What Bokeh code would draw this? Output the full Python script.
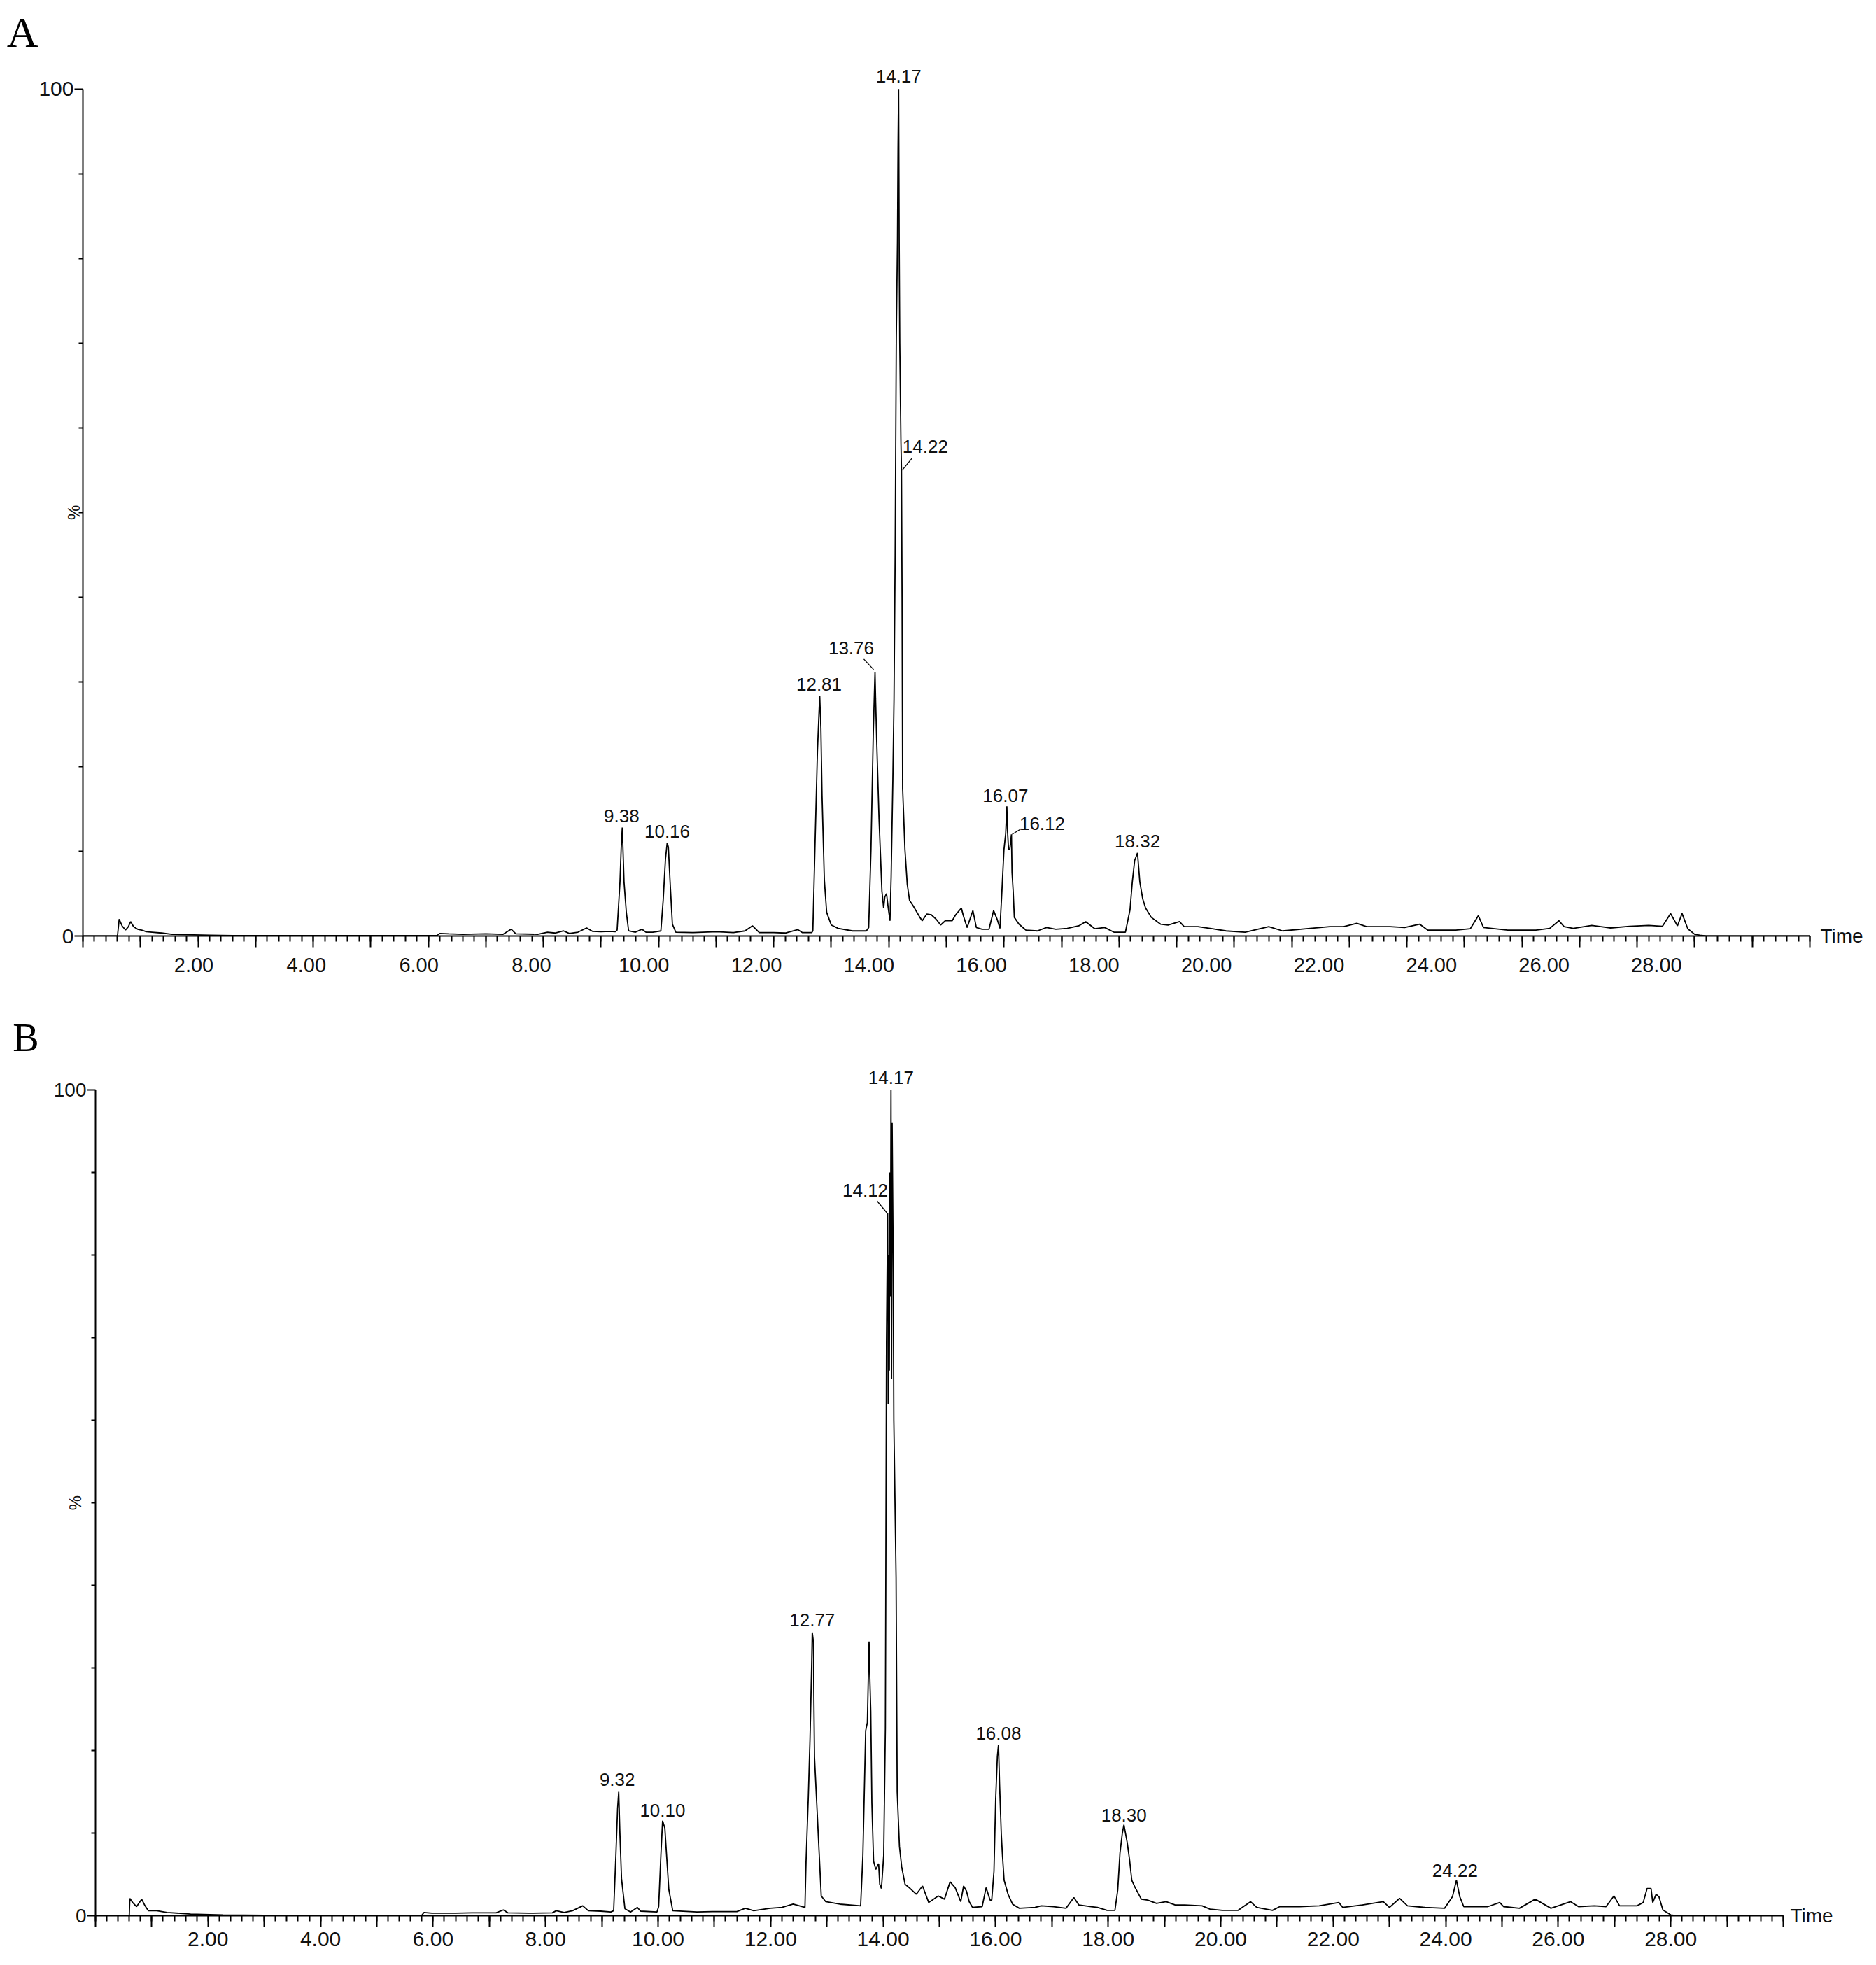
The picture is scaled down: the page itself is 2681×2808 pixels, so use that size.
from bokeh.plotting import figure
from bokeh.models import (FixedTicker, LinearAxis, Range1d, NumeralTickFormatter,
                          LabelSet, ColumnDataSource, CustomJSTickFormatter)
from bokeh.layouts import column, row
from bokeh.embed import file_html
from bokeh.resources import INLINE
from bokeh.core.properties import value

# ---------------- data ----------------
# Panel A chromatogram: retention time (min) and relative intensity (%)
A_TIME = [0.00, 0.60, 0.63, 0.68, 0.74, 0.79, 0.83, 0.88, 0.95, 1.02, 1.10, 1.20, 1.37, 1.55, 1.79,
          2.20, 2.60, 3.50, 4.50, 5.50, 6.15, 6.20, 6.35, 6.60, 7.00, 7.30, 7.44, 7.52, 7.90, 8.07,
          8.20, 8.35, 8.45, 8.60, 8.75, 8.85, 9.00, 9.15, 9.25, 9.28, 9.33, 9.35, 9.37, 9.40, 9.44,
          9.48, 9.60, 9.71, 9.78, 9.90, 10.04, 10.08, 10.12, 10.15, 10.17, 10.20, 10.24, 10.30, 10.60,
          11.00, 11.30, 11.50, 11.63, 11.75, 12.00, 12.20, 12.42, 12.50, 12.66, 12.68, 12.72, 12.76,
          12.79, 12.80, 12.82, 12.84, 12.88, 12.92, 13.00, 13.12, 13.37, 13.61, 13.65, 13.69, 13.73,
          13.76, 13.77, 13.79, 13.83, 13.88, 13.91, 13.93, 13.96, 13.99, 14.02, 14.04, 14.07, 14.09,
          14.11, 14.13, 14.15, 14.16, 14.17, 14.18, 14.19, 14.21, 14.22, 14.23, 14.24, 14.28, 14.32,
          14.36, 14.42, 14.54, 14.58, 14.66, 14.74, 14.82, 14.90, 14.98, 15.10, 15.16, 15.26, 15.29,
          15.36, 15.46, 15.52, 15.62, 15.74, 15.82, 15.88, 15.93, 15.96, 16.00, 16.03, 16.05, 16.06,
          16.08, 16.10, 16.13, 16.14, 16.16, 16.18, 16.26, 16.38, 16.58, 16.74, 16.90, 17.10, 17.30,
          17.42, 17.58, 17.75, 17.91, 18.11, 18.19, 18.23, 18.27, 18.32, 18.36, 18.41, 18.46, 18.56,
          18.72, 18.85, 19.05, 19.13, 19.37, 19.62, 19.86, 20.19, 20.60, 20.84, 21.25, 21.66, 21.90,
          22.13, 22.30, 22.71, 22.96, 23.22, 23.36, 23.85, 24.10, 24.24, 24.33, 24.75, 25.24, 25.48,
          25.64, 25.73, 25.89, 26.21, 26.54, 26.87, 27.20, 27.44, 27.58, 27.70, 27.78, 27.88, 28.00,
          28.09, 28.20, 30.00]
A_PCT = [0.0, 0.0, 2.0, 1.2, 0.7, 1.1, 1.7, 1.1, 0.8, 0.7, 0.5, 0.45, 0.35, 0.2, 0.15,
         0.1, 0.05, 0.05, 0.05, 0.05, 0.05, 0.3, 0.25, 0.2, 0.25, 0.2, 0.8, 0.25, 0.2, 0.45,
         0.35, 0.6, 0.3, 0.45, 0.95, 0.55, 0.5, 0.55, 0.5, 0.7, 6.4, 10.2, 12.8, 6.4, 2.8,
         0.6, 0.45, 0.8, 0.45, 0.45, 0.6, 4.2, 9.1, 11.0, 10.5, 6.4, 1.4, 0.45, 0.4,
         0.5, 0.4, 0.6, 1.2, 0.4, 0.4, 0.35, 0.75, 0.4, 0.4, 0.6, 11.3, 21.8,
         26.8, 28.3, 24.5, 16.6, 6.6, 2.8, 1.3, 0.9, 0.6, 0.6, 1.0, 10.2, 24.0,
         31.2, 28.0, 22.9, 13.8, 5.3, 3.3, 4.6, 5.0, 3.3, 1.8, 6.9, 18.5, 28.0,
         45.0, 70.7, 82.0, 93.0, 100.0, 82.0, 70.0, 58.4, 55.0, 40.0, 17.4, 10.2, 6.1,
         4.2, 3.6, 2.2, 1.8, 2.6, 2.5, 2.0, 1.3, 1.8, 1.8, 2.5, 3.3, 2.5,
         1.0, 3.0, 1.0, 0.8, 0.8, 3.0, 2.0, 0.9, 4.7, 10.2, 12.1, 15.3, 12.6,
         10.2, 10.2, 12.0, 7.5, 5.3, 2.2, 1.4, 0.7, 0.6, 1.0, 0.8, 0.9, 1.2,
         1.7, 0.85, 1.0, 0.45, 0.45, 3.1, 6.4, 8.9, 9.8, 6.4, 4.4, 3.3, 2.2,
         1.4, 1.3, 1.7, 1.1, 1.1, 0.85, 0.6, 0.45, 1.1, 0.6, 0.85, 1.1, 1.1,
         1.5, 1.1, 1.1, 1.0, 1.4, 0.7, 0.7, 0.85, 2.4, 1.0, 0.7, 0.7, 0.9,
         1.8, 1.1, 0.9, 1.25, 0.95, 1.15, 1.25, 1.15, 2.65, 1.2, 2.65, 0.85, 0.2,
         0.1, 0.0, 0.0]

# Panel B chromatogram
B_TIME = [0.00, 0.60, 0.61, 0.66, 0.73, 0.82, 0.88, 0.94, 1.09, 1.27, 1.69, 2.26, 3.00, 4.00, 5.00,
          5.80, 5.84, 5.98, 6.40, 6.69, 7.12, 7.25, 7.33, 7.70, 8.12, 8.19, 8.33, 8.48, 8.66, 8.76,
          8.98, 9.16, 9.21, 9.25, 9.28, 9.30, 9.32, 9.35, 9.41, 9.51, 9.63, 9.69, 9.98, 10.01, 10.05,
          10.08, 10.12, 10.15, 10.19, 10.26, 10.69, 11.00, 11.40, 11.55, 11.70, 11.99, 12.20, 12.40,
          12.61, 12.63, 12.67, 12.70, 12.73, 12.74, 12.76, 12.77, 12.78, 12.82, 12.86, 12.90, 12.98,
          13.23, 13.60, 13.64, 13.69, 13.72, 13.75, 13.76, 13.78, 13.80, 13.83, 13.87, 13.92, 13.94,
          13.97, 14.01, 14.04, 14.06, 14.08, 14.09, 14.10, 14.11, 14.12, 14.13, 14.14, 14.15, 14.16,
          14.18, 14.19, 14.23, 14.25, 14.29, 14.33, 14.39, 14.48, 14.59, 14.70, 14.81, 14.98, 15.09,
          15.19, 15.28, 15.38, 15.43, 15.48, 15.53, 15.59, 15.76, 15.83, 15.90, 15.93, 15.97, 16.00,
          16.03, 16.05, 16.07, 16.10, 16.12, 16.15, 16.22, 16.30, 16.42, 16.70, 16.81, 17.03, 17.25,
          17.39, 17.48, 17.70, 17.81, 17.98, 18.12, 18.17, 18.21, 18.25, 18.28, 18.31, 18.34, 18.38,
          18.42, 18.48, 18.59, 18.70, 18.86, 19.03, 19.19, 19.36, 19.67, 19.81, 20.03, 20.31, 20.53,
          20.64, 20.92, 21.05, 21.40, 21.75, 22.10, 22.17, 22.52, 22.89, 23.00, 23.18, 23.32, 23.63,
          23.98, 24.12, 24.19, 24.25, 24.32, 24.75, 24.96, 25.03, 25.31, 25.59, 25.87, 26.22, 26.36,
          26.64, 26.85, 26.99, 27.09, 27.40, 27.51, 27.58, 27.65, 27.68, 27.74, 27.79, 27.86, 28.00,
          28.10, 30.00]
B_PCT = [0.0, 0.0, 2.1, 1.6, 1.1, 2.0, 1.2, 0.6, 0.6, 0.4, 0.2, 0.1, 0.05, 0.05, 0.05,
         0.05, 0.4, 0.3, 0.3, 0.35, 0.35, 0.7, 0.35, 0.3, 0.35, 0.6, 0.4, 0.6, 1.2, 0.6,
         0.55, 0.45, 0.6, 7.4, 13.0, 15.0, 10.2, 4.5, 0.85, 0.45, 1.0, 0.55, 0.45, 1.1, 7.4,
         11.5, 10.6, 7.4, 3.2, 0.6, 0.45, 0.5, 0.5, 0.9, 0.6, 0.9, 1.0, 1.4,
         1.0, 6.6, 14.3, 21.3, 30.4, 34.3, 33.2, 25.5, 19.2, 13.6, 8.0, 2.4, 1.7,
         1.4, 1.2, 7.3, 22.4, 23.4, 33.2, 29.7, 24.8, 13.6, 6.6, 5.6, 6.3, 3.8,
         3.3, 7.3, 22.7, 69.6, 85.1, 62.0, 80.0, 66.0, 90.0, 75.0, 100.0, 65.0, 96.0,
         78.0, 60.0, 41.0, 15.0, 8.4, 5.9, 3.8, 3.3, 2.6, 3.6, 1.6, 2.4, 2.0,
         4.1, 3.4, 1.7, 3.6, 3.0, 1.7, 1.0, 1.1, 3.4, 1.9, 1.9, 5.4, 14.1,
         19.3, 20.7, 15.8, 9.9, 7.4, 4.3, 2.6, 1.4, 0.9, 1.0, 1.2, 1.1, 0.9,
         2.2, 1.3, 1.1, 1.0, 0.65, 0.65, 3.1, 7.6, 9.9, 11.0, 9.9, 8.8, 6.8,
         4.3, 3.4, 2.0, 1.9, 1.5, 1.7, 1.3, 1.3, 1.2, 0.8, 0.65, 0.65, 1.7,
         1.0, 0.65, 1.1, 1.1, 1.2, 1.6, 1.0, 1.3, 1.7, 1.0, 2.1, 1.2, 1.0,
         0.9, 2.3, 4.3, 2.3, 1.1, 1.1, 1.6, 1.1, 0.9, 2.0, 0.9, 1.7, 1.1,
         1.2, 1.1, 2.4, 1.2, 1.2, 1.6, 3.3, 3.3, 1.6, 2.6, 2.3, 0.7, 0.1,
         0.0, 0.0]

# Peak annotations: label text, time and height of the point the label refers to
A_ANN_TEXT = ["9.38", "10.16", "12.81", "13.76", "14.17", "14.22", "16.07", "16.12", "18.32"]
A_ANN_TIME = [9.37, 10.15, 12.80, 13.76, 14.17, 14.22, 16.05, 16.13, 18.32]
A_ANN_PCT = [12.8, 11.0, 28.3, 31.2, 100.0, 55.0, 15.3, 12.0, 9.8]

B_ANN_TEXT = ["9.32", "10.10", "12.77", "14.12", "14.17", "16.08", "18.30", "24.22"]
B_ANN_TIME = [9.30, 10.08, 12.74, 14.08, 14.14, 16.05, 18.28, 24.19]
B_ANN_PCT = [15.0, 11.5, 34.3, 85.1, 100.0, 20.7, 11.0, 4.3]

X_MAJOR = list(range(0, 31))
X_MINOR = [i / 5 for i in range(0, 151)]
X_LABELS = list(range(2, 29, 2))
Y_MAJOR = [0, 100]
Y_MINOR = list(range(10, 100, 10))
Y_TITLE_AT = 50

# ---------------- styling ----------------
SANS = "Liberation Sans"
SERIF = "Liberation Serif"

# label offsets in screen pixels (x right, y up) and leader lines
A_ANN_DX = [-1, 0, -1, -34, 0, 34, -2, 44, 0]
A_ANN_DY = [17, 16, 17, 34, 18, 34, 15, 15, 17]
A_LEAD = {3: (-2, 3, -16, 18), 5: (1, 0, 15, 17), 7: (1, 0, 14, 8)}
B_ANN_DX = [-2, 0, 0, -32, 0, 0, 0, -2]
B_ANN_DY = [17, 15, 18, 32, 17, 16, 14, 14]
B_LEAD = {3: (-1, 0, -15, 17)}


def fixed_text(txt):
    return CustomJSTickFormatter(code="return '%s';" % txt)


def bare_axis(ax):
    ax.axis_line_color = None
    ax.major_tick_line_color = None
    ax.minor_tick_line_color = None
    ax.major_tick_out = 0
    ax.major_tick_in = 0
    ax.minor_tick_out = 0
    ax.minor_tick_in = 0
    ax.major_label_text_color = "#111111"


def panel(letter, times, pct, ann_text, ann_t, ann_p, ann_dx, ann_dy, leads,
          left, top, frame_w, frame_h, bottom, right, y_end,
          lab_range, lab_standoff, xlab_size, ylab_size, pct_standoff,
          ann_size, letter_size, letter_y, letter_standoff, time_standoff):
    p = figure(frame_width=frame_w, frame_height=frame_h,
               x_range=Range1d(0, 30), y_range=Range1d(0, y_end),
               output_backend="svg", toolbar_location=None,
               min_border_left=left, min_border_top=top,
               min_border_bottom=bottom, min_border_right=right)
    p.xgrid.visible = False
    p.ygrid.visible = False
    p.outline_line_color = None
    p.background_fill_color = "white"
    p.border_fill_color = "white"

    p.line(times, pct, line_color="black", line_width=1.8)

    # x axis: tick marks only
    xa = p.xaxis[0]
    xa.ticker = FixedTicker(ticks=X_MAJOR, minor_ticks=X_MINOR)
    xa.axis_line_width = 2
    xa.axis_line_color = "black"
    xa.major_tick_line_width = 2
    xa.minor_tick_line_width = 2
    xa.major_tick_out = 16
    xa.major_tick_in = 0
    xa.minor_tick_out = 8
    xa.minor_tick_in = 0
    xa.major_label_text_font_size = "0px"
    xa.major_label_text_color = None
    xa.major_label_standoff = 0

    # x tick labels
    if lab_range is not None:
        p.extra_x_ranges = {"lab": Range1d(*lab_range)}
        la = LinearAxis(x_range_name="lab")
    else:
        la = LinearAxis()
    la.ticker = FixedTicker(ticks=X_LABELS, minor_ticks=[])
    la.formatter = NumeralTickFormatter(format="0.00")
    bare_axis(la)
    la.major_label_standoff = lab_standoff
    la.major_label_text_font = SANS
    la.major_label_text_font_size = f"{xlab_size}px"
    p.add_layout(la, "below")

    # y axis
    ya = p.yaxis[0]
    ya.ticker = FixedTicker(ticks=Y_MAJOR, minor_ticks=Y_MINOR)
    ya.bounds = (0, 100)
    ya.axis_line_width = 2
    ya.axis_line_color = "black"
    ya.major_tick_line_width = 2
    ya.minor_tick_line_width = 2
    ya.major_tick_out = 12
    ya.major_tick_in = 0
    ya.minor_tick_out = 6
    ya.minor_tick_in = 0
    ya.major_label_standoff = 1
    ya.major_label_text_font = SANS
    ya.major_label_text_font_size = f"{ylab_size}px"
    ya.major_label_text_color = "#111111"

    # "%" title of the intensity axis, rotated, at mid height
    pa = LinearAxis(ticker=FixedTicker(ticks=[Y_TITLE_AT], minor_ticks=[]),
                    formatter=fixed_text("%"))
    bare_axis(pa)
    pa.major_label_orientation = "vertical"
    pa.major_label_standoff = pct_standoff
    pa.major_label_text_font = SANS
    pa.major_label_text_font_size = "24px"
    p.add_layout(pa, "left")

    # panel letter (as a tick label of a bare outer axis)
    lt = LinearAxis(ticker=FixedTicker(ticks=[letter_y], minor_ticks=[]),
                    formatter=fixed_text(letter))
    bare_axis(lt)
    lt.major_label_standoff = letter_standoff
    lt.major_label_text_font = SERIF
    lt.major_label_text_font_size = f"{letter_size}px"
    lt.major_label_text_color = "black"
    p.add_layout(lt, "left")

    # "Time" at the end of the time axis
    ta = LinearAxis(ticker=FixedTicker(ticks=[0], minor_ticks=[]),
                    formatter=fixed_text("Time"))
    bare_axis(ta)
    ta.major_label_standoff = time_standoff
    ta.major_label_text_font = SANS
    ta.major_label_text_font_size = "28px"
    p.add_layout(ta, "right")

    # peak annotations
    sx = frame_w / 30.0
    sy = frame_h / y_end
    src = ColumnDataSource(dict(t=ann_t, y=ann_p, text=ann_text, dx=ann_dx, dy=ann_dy))
    p.add_layout(LabelSet(x="t", y="y", text="text", x_offset="dx", y_offset="dy",
                          source=src, text_align="center", text_baseline="middle",
                          text_font=value(SANS), text_font_size=value(f"{ann_size}px"),
                          text_color="#111111"))
    x0s, y0s, x1s, y1s = [], [], [], []
    for i, (a, b, c, d) in leads.items():
        x0s.append(ann_t[i] + a / sx)
        y0s.append(ann_p[i] + b / sy)
        x1s.append(ann_t[i] + c / sx)
        y1s.append(ann_p[i] + d / sy)
    p.segment(x0s, y0s, x1s, y1s, line_color="black", line_width=1.3)
    return p


pA = panel("A", A_TIME, A_PCT, A_ANN_TEXT, A_ANN_TIME, A_ANN_PCT, A_ANN_DX, A_ANN_DY, A_LEAD,
           left=118, top=30, frame_w=2468, frame_h=1307, bottom=100, right=85,
           y_end=108.0, lab_range=(0.0286, 30.725), lab_standoff=15,
           xlab_size=29, ylab_size=30, pct_standoff=-67,
           ann_size=26, letter_size=62, letter_y=106.7, letter_standoff=-2, time_standoff=15)

pB = panel("B", B_TIME, B_PCT, B_ANN_TEXT, B_ANN_TIME, B_ANN_PCT, B_ANN_DX, B_ANN_DY, B_LEAD,
           left=136, top=18, frame_w=2412, frame_h=1282, bottom=60, right=85,
           y_end=108.64, lab_range=None, lab_standoff=7,
           xlab_size=30, ylab_size=28, pct_standoff=-48,
           ann_size=26, letter_size=56, letter_y=106.3, letter_standoff=18, time_standoff=10)

layout = column(row(pA), row(pB), spacing=0)
open("out.html", "w").write(file_html(layout, INLINE))
